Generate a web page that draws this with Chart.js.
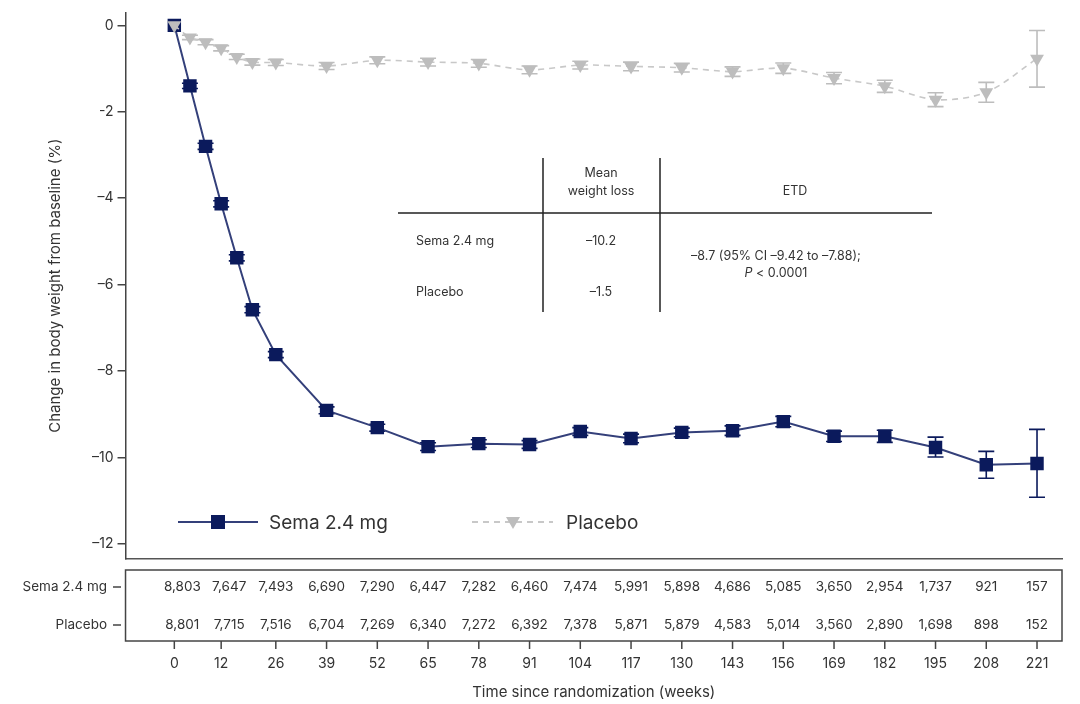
<!DOCTYPE html>
<html>
<head>
<meta charset="utf-8">
<script src="https://cdn.jsdelivr.net/npm/chart.js@4.4.1/dist/chart.umd.min.js"></script>
<style>
  html, body { margin: 0; padding: 0; background: #fff; }
  #wrap { width: 1080px; height: 704px; }
</style>
</head>
<body>
<div id="wrap"><canvas id="grafico" width="1080" height="704"></canvas></div>
<script>
// weeks since randomization
const weeks = [0, 4, 8, 12, 16, 20, 26, 39, 52, 65, 78, 91, 104, 117, 130, 143, 156, 169, 182, 195, 208, 221];

const semaMean = [0, -1.40, -2.80, -4.13, -5.38, -6.58, -7.62, -8.91, -9.31, -9.75, -9.68, -9.70, -9.40, -9.56, -9.42, -9.38, -9.17, -9.51, -9.51, -9.77, -10.17, -10.14];
const semaLow  = [0, -1.46, -2.87, -4.20, -5.45, -6.65, -7.69, -8.99, -9.39, -9.84, -9.77, -9.79, -9.49, -9.66, -9.52, -9.49, -9.29, -9.63, -9.65, -9.99, -10.48, -10.92];
const semaHigh = [0, -1.34, -2.73, -4.06, -5.31, -6.51, -7.55, -8.83, -9.23, -9.66, -9.59, -9.61, -9.31, -9.46, -9.32, -9.27, -9.05, -9.39, -9.37, -9.53, -9.86, -9.35];

const placeboMean = [0, -0.28, -0.39, -0.53, -0.73, -0.85, -0.86, -0.94, -0.81, -0.85, -0.88, -1.03, -0.92, -0.95, -0.98, -1.07, -0.99, -1.22, -1.41, -1.72, -1.55, -0.77];
const placeboLow  = [0, -0.33, -0.45, -0.59, -0.79, -0.92, -0.93, -1.02, -0.89, -0.94, -0.97, -1.12, -1.01, -1.05, -1.08, -1.18, -1.11, -1.35, -1.55, -1.88, -1.78, -1.43];
const placeboHigh = [0, -0.23, -0.33, -0.47, -0.67, -0.78, -0.79, -0.86, -0.73, -0.76, -0.79, -0.94, -0.83, -0.85, -0.88, -0.96, -0.87, -1.09, -1.27, -1.56, -1.32, -0.12];

// risk table
const tickWeeks = [0, 12, 26, 39, 52, 65, 78, 91, 104, 117, 130, 143, 156, 169, 182, 195, 208, 221];
const semaAtRisk = ['8,803', '7,647', '7,493', '6,690', '7,290', '6,447', '7,282', '6,460', '7,474', '5,991', '5,898', '4,686', '5,085', '3,650', '2,954', '1,737', '921', '157'];
const placeboAtRisk = ['8,801', '7,715', '7,516', '6,704', '7,269', '6,340', '7,272', '6,392', '7,378', '5,871', '5,879', '4,583', '5,014', '3,560', '2,890', '1,698', '898', '152'];

const yTicks = [0, -2, -4, -6, -8, -10, -12];
const yTickLabels = ['0', '-2', '–4', '–6', '–8', '–10', '–12'];

const FONT = 'Inter, "Noto Sans", sans-serif';
const TEXT = '#333';
const NAVY = '#0b1a5c';
const NAVY_LINE = '#34407a';
const GRAY = '#bdbdbd';

function toPoints(vals) {
    return weeks.map((w, i) => ({ x: w, y: vals[i] }));
}

const extras = {
    id: 'extras',
    beforeDatasetsDraw(chart) {
        const { ctx, scales: { x, y } } = chart;
        ctx.save();
        chart.data.datasets.forEach(ds => {
            ctx.strokeStyle = ds.ciColor;
            ctx.lineWidth = 1.6;
            weeks.forEach((w, i) => {
                const px = x.getPixelForValue(w);
                const y1 = y.getPixelForValue(ds.ciLow[i]);
                const y2 = y.getPixelForValue(ds.ciHigh[i]);
                if (Math.abs(y1 - y2) < 0.5) return;
                ctx.beginPath();
                ctx.moveTo(px, y1); ctx.lineTo(px, y2);
                ctx.moveTo(px - 8, y1); ctx.lineTo(px + 8, y1);
                ctx.moveTo(px - 8, y2); ctx.lineTo(px + 8, y2);
                ctx.stroke();
            });
        });
        ctx.restore();
    },
    afterDraw(chart) {
        const { ctx, chartArea: area, scales: { x } } = chart;
        ctx.save();

        // inset summary table
        ctx.strokeStyle = '#222';
        ctx.lineWidth = 1.5;
        ctx.beginPath();
        ctx.moveTo(398, 213); ctx.lineTo(932, 213);
        ctx.moveTo(543, 158); ctx.lineTo(543, 312);
        ctx.moveTo(660, 158); ctx.lineTo(660, 312);
        ctx.stroke();
        ctx.fillStyle = TEXT;
        ctx.font = '12.5px ' + FONT;
        ctx.textBaseline = 'middle';
        ctx.textAlign = 'center';
        ctx.fillText('Mean', 601, 173);
        ctx.fillText('weight loss', 601, 191);
        ctx.fillText('ETD', 795, 191);
        ctx.fillText('–10.2', 601, 241);
        ctx.fillText('–1.5', 601, 292);
        ctx.fillText('–8.7 (95% CI –9.42 to –7.88);', 776, 256);
        ctx.font = 'italic 12.5px ' + FONT;
        const pw = ctx.measureText('P').width;
        ctx.font = '12.5px ' + FONT;
        const rest = ' < 0.0001';
        const rw = ctx.measureText(rest).width;
        const sx = 776 - (pw + rw) / 2;
        ctx.textAlign = 'left';
        ctx.fillText(rest, sx + pw, 273);
        ctx.font = 'italic 12.5px ' + FONT;
        ctx.fillText('P', sx, 273);
        ctx.font = '12.5px ' + FONT;
        ctx.fillText('Sema 2.4 mg', 416, 241);
        ctx.fillText('Placebo', 416, 292);

        // legend
        const sema = chart.data.datasets[1];
        const plac = chart.data.datasets[0];
        const ly = 522;
        ctx.strokeStyle = sema.borderColor;
        ctx.lineWidth = 2;
        ctx.beginPath(); ctx.moveTo(178, ly); ctx.lineTo(258, ly); ctx.stroke();
        ctx.fillStyle = sema.pointBackgroundColor;
        ctx.fillRect(211, ly - 7, 14, 14);
        ctx.strokeStyle = plac.borderColor;
        ctx.setLineDash(plac.borderDash);
        ctx.beginPath(); ctx.moveTo(472, ly); ctx.lineTo(553, ly); ctx.stroke();
        ctx.setLineDash([]);
        ctx.fillStyle = plac.pointBackgroundColor;
        ctx.beginPath();
        ctx.moveTo(506, ly - 5); ctx.lineTo(520, ly - 5); ctx.lineTo(513, ly + 7);
        ctx.closePath(); ctx.fill();
        ctx.fillStyle = TEXT;
        ctx.font = '19px ' + FONT;
        ctx.textAlign = 'left';
        ctx.fillText(sema.label, 269, ly + 1);
        ctx.fillText(plac.label, 566, ly + 1);

        // risk table box
        const top = area.bottom + 11, bot = area.bottom + 82;
        ctx.strokeStyle = '#444';
        ctx.lineWidth = 1.5;
        ctx.strokeRect(area.left, top, area.right - area.left, bot - top);
        ctx.font = '13.5px ' + FONT;
        ctx.fillStyle = TEXT;
        ctx.textAlign = 'right';
        ctx.fillText('Sema 2.4 mg', 107, top + 17);
        ctx.fillText('Placebo', 107, top + 55);
        ctx.beginPath();
        ctx.moveTo(113, top + 17); ctx.lineTo(121, top + 17);
        ctx.moveTo(113, top + 55); ctx.lineTo(121, top + 55);
        ctx.stroke();
        ctx.textAlign = 'center';
        tickWeeks.forEach((w, i) => {
            const px = x.getPixelForValue(w);
            ctx.fillText(semaAtRisk[i], px + (i < 2 ? 8 : 0), top + 17);
            ctx.fillText(placeboAtRisk[i], px + (i < 2 ? 8 : 0), top + 55);
            ctx.beginPath();
            ctx.moveTo(px, bot); ctx.lineTo(px, bot + 8);
            ctx.stroke();
        });
        ctx.restore();
    }
};

new Chart(document.getElementById('grafico'), {
    type: 'line',
    data: {
        datasets: [
            {
                label: 'Placebo',
                data: toPoints(placeboMean),
                ciLow: placeboLow,
                ciHigh: placeboHigh,
                ciColor: GRAY,
                borderColor: '#c8c8c8',
                borderWidth: 1.6,
                borderDash: [6, 5],
                pointStyle: 'triangle',
                rotation: 180,
                pointRadius: 8,
                pointBackgroundColor: GRAY,
                pointBorderColor: GRAY,
                pointBorderWidth: 0,
                tension: 0.3
            },
            {
                label: 'Sema 2.4 mg',
                data: toPoints(semaMean),
                ciLow: semaLow,
                ciHigh: semaHigh,
                ciColor: NAVY,
                borderColor: NAVY_LINE,
                borderWidth: 2,
                pointStyle: 'rect',
                pointRadius: 9.5,
                pointBackgroundColor: NAVY,
                pointBorderColor: NAVY,
                pointBorderWidth: 0,
                tension: 0
            }
        ]
    },
    options: {
        responsive: false,
        animation: false,
        layout: { padding: { top: 10, right: 18, left: 10, bottom: 0 } },
        plugins: {
            legend: { display: false },
            tooltip: { enabled: false }
        },
        scales: {
            x: {
                type: 'linear',
                min: -12.5,
                max: 227.4,
                afterBuildTicks: (scale) => { scale.ticks = tickWeeks.map(v => ({ value: v })); },
                afterFit: (scale) => { scale.height = 145; },
                // long transparent tick marks push the labels below the risk table
                grid: { display: true, drawOnChartArea: false, drawTicks: true, tickLength: 94, color: 'rgba(0,0,0,0)' },
                border: { display: true, color: '#555', width: 1.5 },
                ticks: {
                    padding: 2,
                    color: TEXT,
                    font: { family: FONT, size: 14 },
                    maxRotation: 0,
                    autoSkip: false
                },
                title: {
                    display: true,
                    text: 'Time since randomization (weeks)',
                    color: TEXT,
                    font: { family: FONT, size: 15 },
                    padding: { top: 12, bottom: 3 }
                }
            },
            y: {
                min: -12.35,
                max: 0.3,
                afterBuildTicks: (scale) => { scale.ticks = yTicks.map(v => ({ value: v })); },
                grid: { display: true, drawOnChartArea: false, drawTicks: true, tickLength: 8, color: '#444', lineWidth: 1.5 },
                border: { display: true, color: '#444', width: 1.5 },
                ticks: {
                    padding: 4,
                    color: TEXT,
                    font: { family: FONT, size: 14 },
                    callback: (v) => yTickLabels[yTicks.indexOf(v)]
                },
                title: {
                    display: true,
                    text: 'Change in body weight from baseline (%)',
                    color: TEXT,
                    font: { family: FONT, size: 15 },
                    padding: { top: 36, bottom: 24 }
                }
            }
        }
    },
    plugins: [extras]
});
</script>
</body>
</html>
